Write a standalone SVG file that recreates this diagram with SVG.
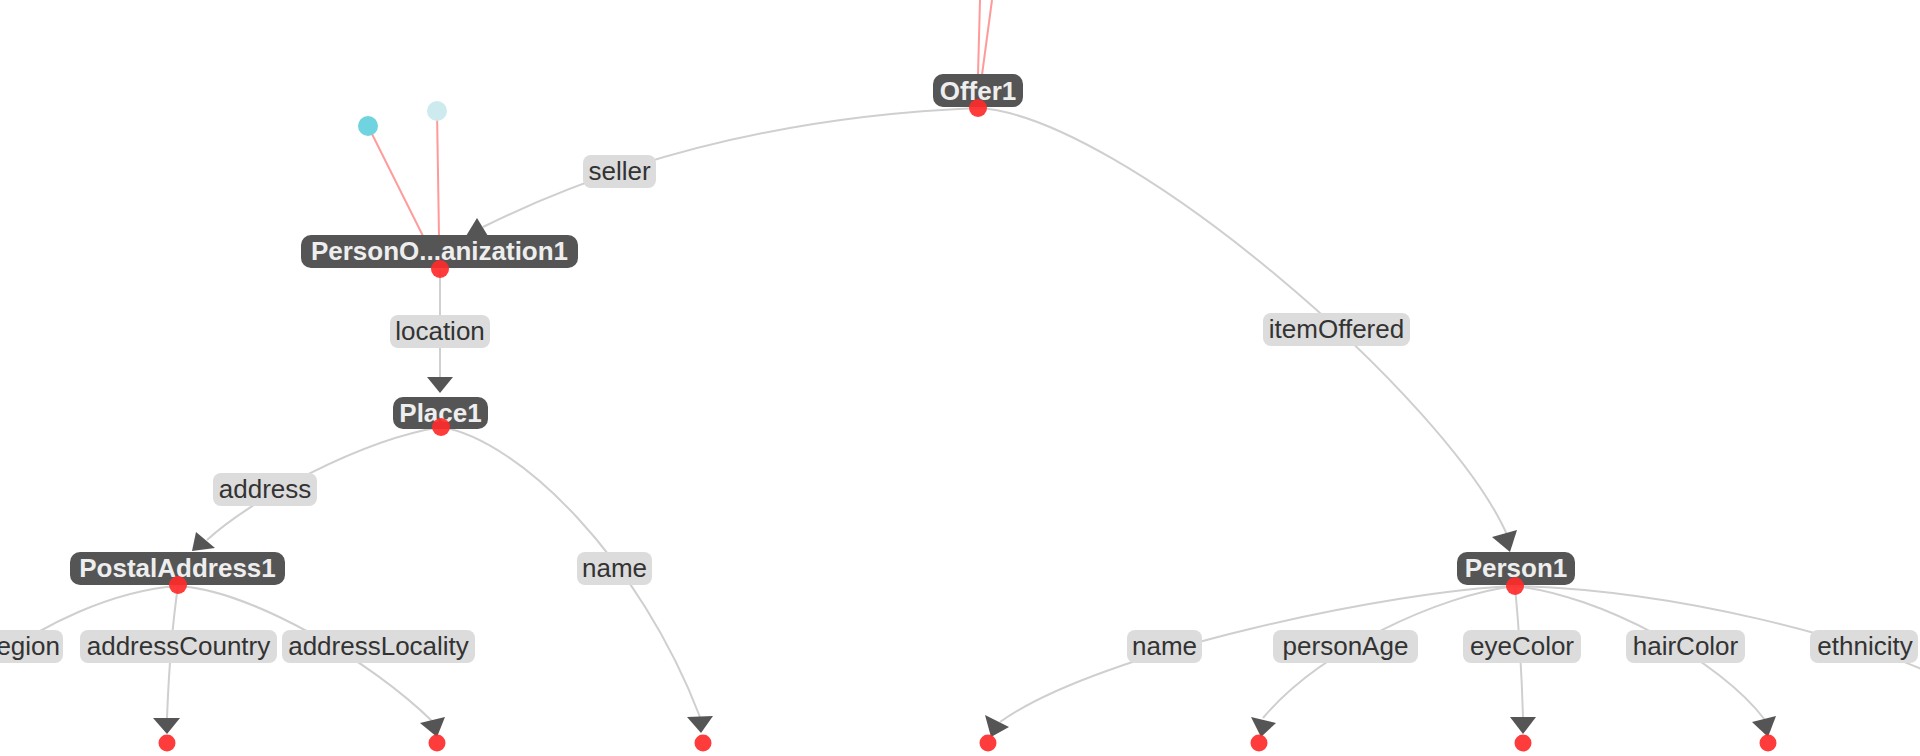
<svg xmlns="http://www.w3.org/2000/svg" width="1920" height="756" viewBox="0 0 1920 756">
<style>
.edge{fill:none;stroke:#cfcfcf;stroke-width:2}
.plink{fill:none;stroke:#ff9a9a;stroke-width:2}
.arrow{fill:#555}
.lbl rect{fill:#dcdcdc}
.lbl text{font-family:"Liberation Sans",Arial,sans-serif;font-size:26px;fill:#333;text-anchor:middle}
.node rect{fill:#555}
.node text{font-family:"Liberation Sans",Arial,sans-serif;font-size:26px;font-weight:bold;fill:#eee;text-anchor:middle}
.dot{fill:#ff2b2b;opacity:0.92}
</style>
<rect width="1920" height="756" fill="#fff"/>
<g id="connectors">
  <line class="plink" x1="978" y1="75" x2="980" y2="0"/>
  <line class="plink" x1="982" y1="75" x2="992" y2="0"/>
  <line class="plink" x1="423" y1="236" x2="368" y2="126"/>
  <line class="plink" x1="439" y1="236" x2="437" y2="111"/>
  <path class="edge" d="M978,108 Q700.7,119.3 483,227"/>
  <path class="edge" d="M440,270 L440,377"/>
  <path class="edge" d="M441,427 C360,440 250,500 207,540"/>
  <path class="edge" d="M441,427 C520,440 640,560 700,717"/>
  <path class="edge" d="M978,108 C1120,115 1450,400 1508,537"/>
  <path class="edge" d="M178,586 C120,590 40,620 -30,680"/>
  <path class="edge" d="M178,586 Q170,640 167,718"/>
  <path class="edge" d="M178,586 C250,590 370,660 433,722"/>
  <path class="edge" d="M1515,586 C1400,590 1100,650 1000,722"/>
  <path class="edge" d="M1515,586 C1440,595 1320,650 1263,718"/>
  <path class="edge" d="M1515,586 Q1521,650 1523,717"/>
  <path class="edge" d="M1515,586 C1600,595 1720,660 1765,720"/>
  <path class="edge" d="M1515,586 C1680,590 1860,640 1935,675"/>
</g>
<g id="edge-labels">
  <g class="lbl"><rect x="583" y="155" width="73" height="33" rx="8"/><text x="619.5" y="180">seller</text></g>
  <g class="lbl"><rect x="390" y="315" width="100" height="33" rx="8"/><text x="440" y="340">location</text></g>
  <g class="lbl"><rect x="213" y="473" width="104" height="33" rx="8"/><text x="265" y="498">address</text></g>
  <g class="lbl"><rect x="577" y="552" width="75" height="33" rx="8"/><text x="614.5" y="577">name</text></g>
  <g class="lbl"><rect x="1263" y="313" width="147" height="33" rx="8"/><text x="1336.5" y="338">itemOffered</text></g>
  <g class="lbl"><rect x="-12" y="630" width="75" height="33" rx="8"/><text x="60" y="655" style="text-anchor:end">egion</text></g>
  <g class="lbl"><rect x="80" y="630" width="197" height="33" rx="8"/><text x="178.5" y="655">addressCountry</text></g>
  <g class="lbl"><rect x="282" y="630" width="193" height="33" rx="8"/><text x="378.5" y="655">addressLocality</text></g>
  <g class="lbl"><rect x="1127" y="630" width="75" height="33" rx="8"/><text x="1164.5" y="655">name</text></g>
  <g class="lbl"><rect x="1273" y="630" width="145" height="33" rx="8"/><text x="1345.5" y="655">personAge</text></g>
  <g class="lbl"><rect x="1463" y="630" width="118" height="33" rx="8"/><text x="1522" y="655">eyeColor</text></g>
  <g class="lbl"><rect x="1626" y="630" width="119" height="33" rx="8"/><text x="1685.5" y="655">hairColor</text></g>
  <g class="lbl"><rect x="1810" y="630" width="108" height="33" rx="8"/><text x="1865" y="655">ethnicity</text></g>
</g>
<g id="Offer1" class="node"><rect x="933" y="74" width="90" height="33" rx="10"/><text x="978" y="100">Offer1</text></g>
<g id="PersonOrganization1" class="node"><rect x="301" y="235" width="277" height="33" rx="10"/><text x="439.5" y="260">PersonO...anization1</text></g>
<g id="Place1" class="node"><rect x="393" y="397" width="95" height="32" rx="10"/><text x="440.5" y="422">Place1</text></g>
<g id="PostalAddress1" class="node"><rect x="70" y="552" width="215" height="33" rx="10"/><text x="177.5" y="577">PostalAddress1</text></g>
<g id="Person1" class="node"><rect x="1457" y="552" width="118" height="33" rx="10"/><text x="1516" y="577">Person1</text></g>
<g id="class-dots">
  <circle cx="368" cy="126" r="10" fill="#6fd4e0"/>
  <circle cx="437" cy="111" r="10" fill="#cdeaef"/>
</g>
<g id="arrowheads">
  <polygon class="arrow" points="466,236 477,218 488,236"/>
  <polygon class="arrow" points="427,377 453,377 440,393"/>
  <polygon class="arrow" points="196,532 215,548 192,551"/>
  <polygon class="arrow" points="687,717 713,716 701,733"/>
  <polygon class="arrow" points="1492,537 1517,530 1510,552"/>
  <polygon class="arrow" points="153,718 180,718 167,734"/>
  <polygon class="arrow" points="420,723 445,717 437,737"/>
  <polygon class="arrow" points="985,715 1009,727 991,737"/>
  <polygon class="arrow" points="1251,717 1276,723 1261,737"/>
  <polygon class="arrow" points="1510,717 1536,717 1523,734"/>
  <polygon class="arrow" points="1752,722 1776,716 1768,737"/>
</g>
<g id="value-dots">
  <circle class="dot" cx="978" cy="108" r="9"/>
  <circle class="dot" cx="440" cy="269" r="9"/>
  <circle class="dot" cx="441" cy="427" r="9"/>
  <circle class="dot" cx="178" cy="585" r="9"/>
  <circle class="dot" cx="1515" cy="586" r="9"/>
  <circle class="dot" cx="167" cy="743" r="8.5"/>
  <circle class="dot" cx="437" cy="743" r="8.5"/>
  <circle class="dot" cx="703" cy="743" r="8.5"/>
  <circle class="dot" cx="988" cy="743" r="8.5"/>
  <circle class="dot" cx="1259" cy="743" r="8.5"/>
  <circle class="dot" cx="1523" cy="743" r="8.5"/>
  <circle class="dot" cx="1768" cy="743" r="8.5"/>
</g>
</svg>
